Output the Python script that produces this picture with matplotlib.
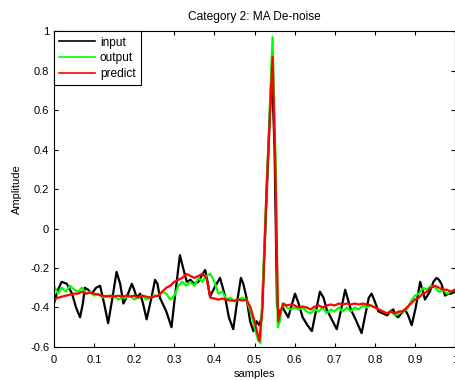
import numpy as np
import matplotlib
matplotlib.use("Agg")
import matplotlib.pyplot as plt

plt.rcParams.update({
    "font.family": ["Liberation Sans", "DejaVu Sans"],
    "font.size": 8,
})

# ---------------------------------------------------------------------------
# Data
# ---------------------------------------------------------------------------
input_x = [0.000, 0.008, 0.019, 0.032, 0.045, 0.055, 0.065, 0.072, 0.077, 0.085,
           0.094, 0.105, 0.115, 0.125, 0.135, 0.145, 0.156, 0.165, 0.173, 0.183,
           0.194, 0.200, 0.206, 0.215, 0.222, 0.231, 0.242, 0.252, 0.258, 0.264,
           0.280, 0.293, 0.303, 0.314, 0.322, 0.331, 0.340, 0.350, 0.360, 0.368,
           0.377, 0.383, 0.389, 0.400, 0.414, 0.425, 0.436, 0.447, 0.456, 0.466,
           0.472, 0.480, 0.489, 0.497, 0.505, 0.512, 0.518, 0.530, 0.543, 0.550,
           0.556, 0.561, 0.570, 0.584, 0.601, 0.610, 0.620, 0.632, 0.643, 0.653,
           0.663, 0.672, 0.680, 0.690, 0.705, 0.715, 0.726, 0.733, 0.740, 0.752,
           0.767, 0.778, 0.785, 0.792, 0.800, 0.809, 0.820, 0.831, 0.838, 0.846,
           0.852, 0.858, 0.866, 0.875, 0.883, 0.892, 0.902, 0.913, 0.920, 0.925,
           0.931, 0.937, 0.946, 0.954, 0.960, 0.966, 0.975, 0.983, 0.990, 1.000]
input_y = [-0.38, -0.32, -0.27, -0.28, -0.33, -0.40, -0.45, -0.38, -0.30, -0.31,
           -0.33, -0.30, -0.29, -0.38, -0.48, -0.36, -0.22, -0.28, -0.38, -0.34,
           -0.28, -0.31, -0.35, -0.33, -0.38, -0.46, -0.36, -0.26, -0.28, -0.35,
           -0.42, -0.50, -0.32, -0.135, -0.20, -0.27, -0.26, -0.28, -0.27, -0.24,
           -0.21, -0.27, -0.345, -0.30, -0.25, -0.33, -0.45, -0.51, -0.38, -0.25,
           -0.28, -0.35, -0.47, -0.52, -0.47, -0.49, -0.45, 0.15, 0.82, 0.40,
           -0.38, -0.43, -0.40, -0.45, -0.33, -0.38, -0.45, -0.49, -0.52, -0.42,
           -0.32, -0.35, -0.41, -0.45, -0.51, -0.42, -0.31, -0.36, -0.41, -0.46,
           -0.53, -0.42, -0.35, -0.33, -0.37, -0.42, -0.43, -0.44, -0.42, -0.41,
           -0.44, -0.45, -0.43, -0.41, -0.44, -0.49, -0.40, -0.27, -0.32, -0.36,
           -0.34, -0.32, -0.27, -0.25, -0.26, -0.28, -0.34, -0.33, -0.33, -0.32]

output_x = [0.00, 0.01, 0.02, 0.03, 0.04, 0.05, 0.06, 0.07, 0.08, 0.09,
            0.10, 0.11, 0.12, 0.13, 0.14, 0.15, 0.16, 0.17, 0.18, 0.19,
            0.20, 0.21, 0.22, 0.23, 0.24, 0.25, 0.26, 0.27, 0.28, 0.29,
            0.30, 0.31, 0.32, 0.33, 0.34, 0.35, 0.36, 0.37, 0.38, 0.39,
            0.40, 0.41, 0.42, 0.43, 0.44, 0.45, 0.46, 0.47, 0.48, 0.49,
            0.50, 0.509, 0.515, 0.530, 0.545, 0.553, 0.558, 0.563, 0.57, 0.58,
            0.59, 0.60, 0.61, 0.62, 0.63, 0.64, 0.65, 0.66, 0.67, 0.68,
            0.69, 0.70, 0.71, 0.72, 0.73, 0.74, 0.75, 0.76, 0.77, 0.78,
            0.79, 0.80, 0.81, 0.82, 0.83, 0.84, 0.85, 0.86, 0.87, 0.88,
            0.89, 0.90, 0.91, 0.92, 0.93, 0.94, 0.95, 0.96, 0.97, 0.98,
            0.99, 1.00]
output_y = [-0.29, -0.33, -0.30, -0.32, -0.29, -0.31, -0.32, -0.30, -0.33, -0.32,
            -0.34, -0.33, -0.35, -0.34, -0.35, -0.34, -0.36, -0.35, -0.35, -0.34,
            -0.36, -0.35, -0.34, -0.36, -0.35, -0.34, -0.34, -0.32, -0.33, -0.36,
            -0.34, -0.29, -0.27, -0.29, -0.27, -0.29, -0.25, -0.27, -0.24, -0.23,
            -0.27, -0.33, -0.32, -0.36, -0.35, -0.37, -0.36, -0.35, -0.36, -0.42,
            -0.50, -0.565, -0.58, 0.20, 0.97, 0.30, -0.50, -0.47, -0.38, -0.40,
            -0.41, -0.40, -0.41, -0.40, -0.42, -0.43, -0.41, -0.42, -0.40, -0.43,
            -0.41, -0.42, -0.40, -0.42, -0.40, -0.42, -0.40, -0.41, -0.39, -0.40,
            -0.39, -0.40, -0.41, -0.42, -0.43, -0.42, -0.44, -0.43, -0.42, -0.41,
            -0.37, -0.34, -0.33, -0.30, -0.31, -0.29, -0.30, -0.32, -0.31, -0.33,
            -0.32, -0.31]

predict_x = [0.00, 0.01, 0.02, 0.03, 0.04, 0.05, 0.06, 0.07, 0.08, 0.09,
             0.10, 0.11, 0.12, 0.13, 0.14, 0.15, 0.16, 0.17, 0.18, 0.19,
             0.20, 0.21, 0.22, 0.23, 0.24, 0.25, 0.26, 0.27, 0.28, 0.29,
             0.30, 0.31, 0.32, 0.33, 0.34, 0.35, 0.36, 0.37, 0.38, 0.385,
             0.39, 0.40, 0.41, 0.42, 0.43, 0.44, 0.45, 0.46, 0.47, 0.48,
             0.49, 0.50, 0.512, 0.520, 0.530, 0.545, 0.552, 0.559, 0.565, 0.572,
             0.58, 0.59, 0.60, 0.61, 0.62, 0.63, 0.64, 0.65, 0.66, 0.67,
             0.68, 0.69, 0.70, 0.71, 0.72, 0.73, 0.74, 0.75, 0.76, 0.77,
             0.78, 0.79, 0.80, 0.81, 0.82, 0.83, 0.84, 0.85, 0.86, 0.87,
             0.88, 0.89, 0.90, 0.91, 0.92, 0.93, 0.94, 0.95, 0.96, 0.97,
             0.98, 0.99, 1.00]
predict_y = [-0.36, -0.35, -0.345, -0.34, -0.335, -0.33, -0.33, -0.32, -0.33, -0.325,
             -0.33, -0.335, -0.34, -0.345, -0.34, -0.345, -0.34, -0.345, -0.34, -0.345,
             -0.34, -0.35, -0.34, -0.345, -0.35, -0.345, -0.34, -0.32, -0.30, -0.29,
             -0.27, -0.26, -0.25, -0.23, -0.24, -0.25, -0.24, -0.23, -0.25, -0.30,
             -0.35, -0.355, -0.36, -0.355, -0.36, -0.365, -0.365, -0.36, -0.365, -0.36,
             -0.40, -0.47, -0.57, -0.40, 0.20, 0.87, 0.30, -0.47, -0.42, -0.38,
             -0.39, -0.385, -0.39, -0.40, -0.395, -0.40, -0.41, -0.395, -0.39, -0.40,
             -0.39, -0.385, -0.39, -0.38, -0.385, -0.38, -0.385, -0.38, -0.385, -0.38,
             -0.385, -0.39, -0.40, -0.41, -0.42, -0.43, -0.42, -0.43, -0.42, -0.42,
             -0.40, -0.38, -0.36, -0.35, -0.33, -0.32, -0.30, -0.29, -0.30, -0.31,
             -0.31, -0.32, -0.31]

x_ticks = np.arange(0, 1.01, 0.1)
y_ticks = np.arange(-0.6, 1.01, 0.2)

# ---------------------------------------------------------------------------
# Figure
# ---------------------------------------------------------------------------
fig = plt.figure(figsize=(4.56, 3.8), dpi=100)
ax = fig.add_axes([0.1184, 0.087, 0.8795, 0.831])

ax.plot(input_x, input_y, color="black", linewidth=1.6, label="input")
ax.plot(output_x, output_y, color=(0, 1, 0), linewidth=1.6, label="output")
ax.plot(predict_x, predict_y, color="red", linewidth=1.6, label="predict")

ax.set_xlim(0, 1)
ax.set_ylim(-0.6, 1)
ax.set_xticks(x_ticks)
ax.set_xticklabels([f"{t:g}" for t in np.round(x_ticks, 1)])
ax.set_yticks(y_ticks)
ax.set_yticklabels([f"{t:g}" for t in np.round(y_ticks, 1)])
ax.tick_params(direction="in", top=True, right=True, length=3, width=0.8,
               labelsize=8)
ax.tick_params(axis="x", pad=6)
for s in ax.spines.values():
    s.set_linewidth(0.8)

ax.set_xlabel("samples", fontsize=8, labelpad=3)
ax.set_ylabel("Amplitude", fontsize=8, labelpad=6)
ax.set_title("Category 2: MA De-noise", fontsize=8.6, pad=8)

leg = ax.legend(loc="upper left", prop={"size": 8.6}, fancybox=False, framealpha=1,
                edgecolor="black", borderaxespad=0, handlelength=3.0,
                labelspacing=0.3, borderpad=0.45, handletextpad=0.4)
leg.get_frame().set_linewidth(0.8)
for line in leg.get_lines():
    line.set_linewidth(1.2)

fig.savefig("out.png", dpi=100)
